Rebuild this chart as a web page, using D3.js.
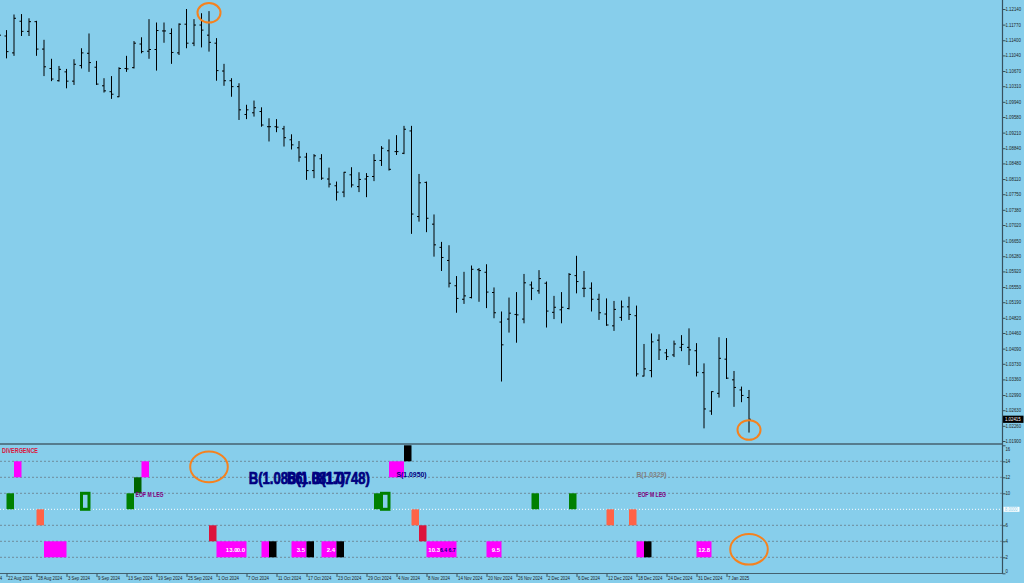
<!DOCTYPE html>
<html>
<head>
<meta charset="utf-8">
<title>EURUSD Daily</title>
<script src="https://cdn.jsdelivr.net/npm/d3@7"></script>
<style>
  html, body { margin: 0; padding: 0; background: #87ceeb; overflow: hidden; }
  svg { display: block; }
</style>
</head>
<body>
<div id="chart"></div>
<script>
// daily bars, first element is 21 Aug 2024, last is 10 Jan 2025
var opens = [1.1141,1.1150,1.1110,1.1185,1.1161,1.1184,1.1119,1.1073,1.1044,1.1065,
  1.1043,1.1080,1.1109,1.1076,1.1032,1.1018,1.1006,1.1073,1.1075,1.1131,
  1.1114,1.1118,1.1162,1.1156,1.1110,1.1178,1.1133,1.1176,1.1152,1.1133,
  1.1067,1.1044,1.1030,1.0964,1.0968,1.0971,1.0935,1.0935,1.0930,1.0904,
  1.0885,1.0863,1.0831,1.0859,1.0811,1.0795,1.0780,1.0821,1.0793,1.0811,
  1.0817,1.0855,1.0878,1.0876,1.0872,1.0925,1.0722,1.0803,1.0704,1.0649,
  1.0618,1.0558,1.0526,1.0530,1.0596,1.0590,1.0542,1.0472,1.0479,1.0490,
  1.0479,1.0560,1.0546,1.0564,1.0495,1.0501,1.0504,1.0582,1.0552,1.0552,
  1.0526,1.0491,1.0463,1.0483,1.0508,1.0487,1.0344,1.0357,1.0429,1.0399,
  1.0394,1.0412,1.0412,1.0404,1.0352,1.0261,1.0303,1.0384,1.0335,1.0311,
  1.0293];
var highs = [1.1169,1.1164,1.1201,1.1202,1.1192,1.1186,1.1141,1.1096,1.1079,1.1072,
  1.1095,1.1121,1.1156,1.1091,1.1050,1.1055,1.1076,1.1103,1.1138,1.1147,
  1.1190,1.1182,1.1182,1.1168,1.1180,1.1214,1.1190,1.1204,1.1209,1.1145,
  1.1084,1.1050,1.1038,1.0987,1.0997,1.0981,1.0955,1.0953,1.0937,1.0917,
  1.0901,1.0873,1.0870,1.0870,1.0838,1.0805,1.0828,1.0839,1.0827,1.0825,
  1.0870,1.0889,1.0905,1.0915,1.0937,1.0937,1.0823,1.0805,1.0727,1.0662,
  1.0654,1.0581,1.0591,1.0606,1.0600,1.0609,1.0554,1.0497,1.0530,1.0543,
  1.0586,1.0568,1.0595,1.0568,1.0534,1.0543,1.0588,1.0629,1.0593,1.0566,
  1.0539,1.0528,1.0522,1.0523,1.0532,1.0511,1.0420,1.0445,1.0443,1.0408,
  1.0428,1.0441,1.0457,1.0422,1.0374,1.0308,1.0436,1.0434,1.0356,1.0319,
  1.0311];
var lows = [1.1122,1.1097,1.1103,1.1150,1.1150,1.1103,1.1055,1.1043,1.1042,1.1026,
  1.1034,1.1073,1.1065,1.1034,1.1016,1.1001,1.1005,1.1065,1.1073,1.1109,
  1.1096,1.1068,1.1134,1.1084,1.1105,1.1121,1.1126,1.1123,1.1113,1.1044,
  1.1032,1.1006,1.0951,1.0953,1.0959,1.0935,1.0900,1.0922,1.0888,1.0881,
  1.0852,1.0809,1.0813,1.0809,1.0791,1.0760,1.0768,1.0791,1.0780,1.0768,
  1.0806,1.0842,1.0831,1.0868,1.0870,1.0681,1.0710,1.0685,1.0627,1.0593,
  1.0554,1.0494,1.0515,1.0528,1.0520,1.0505,1.0481,1.0331,1.0447,1.0423,
  1.0469,1.0524,1.0539,1.0459,1.0479,1.0469,1.0502,1.0540,1.0531,1.0497,
  1.0477,1.0463,1.0451,1.0475,1.0477,1.0343,1.0343,1.0341,1.0382,1.0382,
  1.0389,1.0403,1.0370,1.0343,1.0220,1.0252,1.0293,1.0337,1.0271,1.0282,
  1.0210];
var closes = [1.1152,1.1113,1.1192,1.1161,1.1184,1.1119,1.1077,1.1048,1.1071,1.1043,
  1.1083,1.1110,1.1087,1.1036,1.1020,1.1012,1.1073,1.1072,1.1133,1.1113,
  1.1118,1.1163,1.1162,1.1111,1.1178,1.1133,1.1176,1.1164,1.1135,1.1068,
  1.1044,1.1030,1.0975,1.0975,1.0980,1.0939,1.0935,1.0934,1.0909,1.0892,
  1.0863,1.0831,1.0866,1.0813,1.0799,1.0780,1.0827,1.0797,1.0810,1.0817,
  1.0855,1.0884,1.0834,1.0876,1.0929,1.0728,1.0802,1.0718,1.0655,1.0625,
  1.0564,1.0528,1.0534,1.0597,1.0594,1.0543,1.0494,1.0418,1.0493,1.0489,
  1.0565,1.0552,1.0575,1.0498,1.0507,1.0507,1.0585,1.0568,1.0552,1.0526,
  1.0494,1.0465,1.0502,1.0508,1.0490,1.0349,1.0361,1.0425,1.0406,1.0390,
  1.0420,1.0419,1.0406,1.0353,1.0266,1.0307,1.0386,1.0339,1.0317,1.0298,
  1.02415];

var priceTicks = [1.1214,1.1177,1.1140,1.1104,1.1067,1.1031,1.0994,1.0958,1.0921,1.0884,
  1.0848,1.0811,1.0775,1.0738,1.0702,1.0665,1.0628,1.0592,1.0555,1.0519,
  1.0482,1.0446,1.0409,1.0373,1.0336,1.0299,1.0263,1.0226,1.0190];
var lastPrice = 1.02415;

// one date label every 4 bars, the first one sits 3 bars before 21 Aug
var dateLabels = ["16 Aug 2024","22 Aug 2024","28 Aug 2024","3 Sep 2024","9 Sep 2024",
  "13 Sep 2024","19 Sep 2024","25 Sep 2024","1 Oct 2024","7 Oct 2024","11 Oct 2024",
  "17 Oct 2024","23 Oct 2024","29 Oct 2024","4 Nov 2024","8 Nov 2024","14 Nov 2024",
  "20 Nov 2024","26 Nov 2024","2 Dec 2024","6 Dec 2024","12 Dec 2024","18 Dec 2024",
  "24 Dec 2024","31 Dec 2024","7 Jan 2025"];

// indicator window: bar indexes of each signal block
var magentaHigh = [2, 19, 52, 53];      // level 12..14
var blackHigh = [54];                   // level 14..16
var darkGreenMid = [18];                // level 10..12
var greenMid = [1, 17, 50, 71, 76];     // level 8..10
var greenHollow = [11, 51];             // level 8..10, outlined
var tomatoMid = [5, 55, 81, 84];        // level 6..8
var crimsonLow = [28, 56];              // level 4..6
var magentaLow = [6,7,8,29,30,31,32,35,39,40,43,44,57,58,59,60,65,66,85,93,94]; // level 2..4
var blackLow = [36, 41, 45, 86];        // level 2..4

var whiteValues = [["13.0", 32], ["0.0", 33], ["3.5", 41], ["2.4", 45], ["10.3", 59], ["9.5", 67], ["12.8", 95]];
var navyValues = [["6.4 6.7", 61]];
var legNotes = [["EOF M LEG", 18.2], ["EOF M LEG", 85.2]];
var levelNotes = [["S(1.0950)", 53, "#000080"], ["B(1.0329)", 85, "#808080"]];
var bigNotes = [["B(1.0866)", 33.3], ["B(1.0817)", 38.4], ["B(1.0748)", 41.7]];

var priceMarks = [[28, 1.1205], [100, 1.0216]];
var indMarks = [[28, 13.3], [100, 3.0]];

var W = 1024, H = 583;
var axisX = 1002.5;

var svg = d3.select("#chart").append("svg")
    .attr("width", W)
    .attr("height", H);

var x = d3.scaleLinear().domain([0, 100]).range([-1, 749]);
var y = d3.scaleLinear().domain([1.0190, 1.1214]).range([441, 9]);
var yInd = d3.scaleLinear().domain([0, 16]).range([573.3, 445.3]);

var font = "'Liberation Sans', Arial, sans-serif";

function squeeze(sel, k) {
    sel.each(function() {
        var w = this.getComputedTextLength();
        d3.select(this).attr("textLength", w * k).attr("lengthAdjust", "spacingAndGlyphs");
    });
}

// ---- price bars
var bars = svg.append("g");
opens.forEach(function(o, i) {
    var cx = x(i);
    bars.append("line")
        .attr("x1", cx).attr("x2", cx)
        .attr("y1", y(highs[i])).attr("y2", y(lows[i]))
        .attr("stroke", "#000").attr("stroke-width", 1);
    bars.append("line")
        .attr("x1", cx - 2).attr("x2", cx)
        .attr("y1", y(o)).attr("y2", y(o))
        .attr("stroke", "#000").attr("stroke-width", 1);
    bars.append("line")
        .attr("x1", cx).attr("x2", cx + 2)
        .attr("y1", y(closes[i])).attr("y2", y(closes[i]))
        .attr("stroke", "#000").attr("stroke-width", 1);
});

// ---- price axis
var ya = svg.append("g")
    .attr("transform", "translate(" + axisX + ",0)")
    .call(d3.axisRight(y).tickValues(priceTicks).tickSize(3).tickFormat(d3.format(".5f")));
ya.select(".domain").remove();
ya.selectAll("line").attr("stroke", "#37515e");
ya.selectAll("text")
    .attr("x", 3)
    .attr("fill", "#1c1c1c")
    .style("font-family", font)
    .style("font-size", "4.8px")
    .call(squeeze, 0.9);

var lp = svg.append("g").attr("transform", "translate(" + (axisX + 0.5) + "," + y(lastPrice) + ")");
lp.append("rect").attr("x", 0).attr("y", -3.6).attr("width", 20.5).attr("height", 7.2).attr("fill", "#000");
lp.append("text").text(d3.format(".5f")(lastPrice))
    .attr("x", 2).attr("y", 1.8)
    .attr("fill", "#fff")
    .style("font-family", font).style("font-size", "4.8px")
    .call(squeeze, 0.9);

// ---- indicator grid
var gridLevels = [14, 12, 10, 6, 4, 2];
svg.append("g").selectAll("line").data(gridLevels).enter().append("line")
    .attr("x1", 0).attr("x2", axisX)
    .attr("y1", function(d) { return yInd(d); })
    .attr("y2", function(d) { return yInd(d); })
    .attr("stroke", "#6f8c9c")
    .attr("stroke-dasharray", "2,2");
svg.append("line")
    .attr("x1", 0).attr("x2", axisX)
    .attr("y1", yInd(8)).attr("y2", yInd(8))
    .attr("stroke", "#fff")
    .attr("stroke-dasharray", "1,2");

// merge consecutive bars into one block
function runs(list) {
    var out = [];
    list.slice().sort(function(a, b) { return a - b; }).forEach(function(b) {
        var last = out[out.length - 1];
        if (last && last[0] + last[1] === b) last[1]++;
        else out.push([b, 1]);
    });
    return out;
}

function blocks(list, lo, hi, color) {
    svg.append("g").selectAll("rect").data(runs(list)).enter().append("rect")
        .attr("x", function(d) { return x(d[0]); })
        .attr("width", function(d) { return x(d[0] + d[1]) - x(d[0]); })
        .attr("y", yInd(hi))
        .attr("height", yInd(lo) - yInd(hi))
        .attr("fill", color);
}

blocks(magentaHigh, 12, 14, "#ff00ff");
blocks(blackHigh, 14, 16, "#000000");
blocks(darkGreenMid, 10, 12, "#006400");
blocks(greenMid, 8, 10, "#008000");
blocks(tomatoMid, 6, 8, "#ff6347");
blocks(crimsonLow, 4, 6, "#dc143c");
blocks(magentaLow, 2, 4, "#ff00ff");
blocks(blackLow, 2, 4, "#000000");

svg.append("g").selectAll("rect").data(greenHollow).enter().append("rect")
    .attr("x", function(d) { return x(d); })
    .attr("width", function(d) { return x(d + 1) - x(d); })
    .attr("y", yInd(10))
    .attr("height", yInd(8) - yInd(10))
    .attr("fill", "none")
    .attr("stroke", "#008000")
    .attr("stroke-width", 3);

// ---- indicator texts
svg.append("g").selectAll("text").data(whiteValues).enter().append("text")
    .text(function(d) { return d[0]; })
    .attr("x", function(d) { return x(d[1]) - 1.5; })
    .attr("y", yInd(3) + 2.4)
    .attr("text-anchor", "end")
    .attr("fill", "#fff")
    .style("font-family", font).style("font-size", "6px").style("font-weight", "bold");
svg.append("g").selectAll("text").data(navyValues).enter().append("text")
    .text(function(d) { return d[0]; })
    .attr("x", function(d) { return x(d[1]) - 1; })
    .attr("y", yInd(3) + 2.4)
    .attr("text-anchor", "end")
    .attr("fill", "#000080")
    .style("font-family", font).style("font-size", "6px").style("font-weight", "bold")
    .call(squeeze, 0.85);

svg.append("text").text("DIVERGENCE")
    .attr("x", 2).attr("y", yInd(15.1))
    .attr("fill", "#dc143c")
    .style("font-family", font).style("font-size", "8px").style("font-weight", "bold")
    .attr("textLength", 36).attr("lengthAdjust", "spacingAndGlyphs");

svg.append("g").selectAll("text").data(legNotes).enter().append("text")
    .text(function(d) { return d[0]; })
    .attr("x", function(d) { return x(d[1]); })
    .attr("y", yInd(9.5))
    .attr("fill", "#800080")
    .style("font-family", font).style("font-size", "8px").style("font-weight", "bold")
    .attr("textLength", 28).attr("lengthAdjust", "spacingAndGlyphs");

svg.append("g").selectAll("text").data(levelNotes).enter().append("text")
    .text(function(d) { return d[0]; })
    .attr("x", function(d) { return x(d[1]); })
    .attr("y", yInd(12.1))
    .attr("fill", function(d) { return d[2]; })
    .style("font-family", font).style("font-size", "7.5px").style("font-weight", "bold")
    .attr("textLength", 30).attr("lengthAdjust", "spacingAndGlyphs");

// these three labels overlap each other in the original indicator too
svg.append("g").selectAll("text").data(bigNotes).enter().append("text")
    .text(function(d) { return d[0]; })
    .attr("x", function(d) { return x(d[1]); })
    .attr("y", yInd(11.2))
    .attr("fill", "#000080")
    .attr("stroke", "#000080")
    .attr("stroke-width", 0.7)
    .style("font-family", font).style("font-size", "16px").style("font-weight", "bold")
    .attr("textLength", 58).attr("lengthAdjust", "spacingAndGlyphs");

// ---- indicator axis
var indTicks = [16, 14, 12, 10, 6, 4, 2, 0];
var ia = svg.append("g")
    .attr("transform", "translate(" + axisX + ",0)")
    .call(d3.axisRight(yInd).tickValues(indTicks).tickSize(3));
ia.select(".domain").remove();
ia.selectAll("line").attr("stroke", "#37515e");
ia.selectAll("text")
    .attr("x", 3)
    .attr("y", function(d) {
        var yy = yInd(d);
        return Math.min(Math.max(yy, 449), 570.7) - yy;
    })
    .attr("fill", "#1c1c1c")
    .style("font-family", font)
    .style("font-size", "5px")
    .call(squeeze, 0.85);

var lv = svg.append("g").attr("transform", "translate(" + (axisX + 0.5) + "," + yInd(8) + ")");
lv.append("rect").attr("x", 0.5).attr("y", -2.5).attr("width", 16).attr("height", 5).attr("fill", "#fff");
lv.append("text").text("8.0000")
    .attr("x", 2).attr("y", 1.8)
    .attr("fill", "#87ceeb")
    .style("font-family", font).style("font-size", "4.8px")
    .call(squeeze, 0.85);

// ---- frame lines
svg.append("line")
    .attr("x1", axisX).attr("x2", axisX).attr("y1", 0).attr("y2", 574)
    .attr("stroke", "#37515e").attr("stroke-width", 1.2);
svg.append("line")
    .attr("x1", 0).attr("x2", axisX).attr("y1", 444).attr("y2", 444)
    .attr("stroke", "#44616f").attr("stroke-width", 1.6);
svg.append("line")
    .attr("x1", 0).attr("x2", axisX).attr("y1", 573.5).attr("y2", 573.5)
    .attr("stroke", "#44616f").attr("stroke-width", 1.2);

// ---- date axis
var xa = svg.append("g")
    .attr("transform", "translate(0,573.5)")
    .call(d3.axisBottom(x)
        .tickValues(dateLabels.map(function(d, k) { return -3 + 4 * k; }))
        .tickFormat(function(d, k) { return dateLabels[k]; })
        .tickSize(3.5));
xa.select(".domain").remove();
xa.selectAll("line").attr("stroke", "#37515e");
xa.selectAll("text")
    .attr("x", 1)
    .attr("y", 6)
    .attr("dy", 0)
    .attr("text-anchor", "start")
    .attr("fill", "#1c1c1c")
    .style("font-family", font)
    .style("font-size", "5.5px")
    .call(squeeze, 0.78);

// ---- orange highlight circles
svg.append("g").selectAll("ellipse").data(priceMarks).enter().append("ellipse")
    .attr("cx", function(d) { return x(d[0]); })
    .attr("cy", function(d) { return y(d[1]); })
    .attr("rx", 11.5).attr("ry", 9.8)
    .attr("fill", "none").attr("stroke", "#f5821f").attr("stroke-width", 2);
svg.append("g").selectAll("ellipse").data(indMarks).enter().append("ellipse")
    .attr("cx", function(d) { return x(d[0]); })
    .attr("cy", function(d) { return yInd(d[1]); })
    .attr("rx", 18.8).attr("ry", 15.3)
    .attr("fill", "none").attr("stroke", "#f5821f").attr("stroke-width", 2);
</script>
</body>
</html>
